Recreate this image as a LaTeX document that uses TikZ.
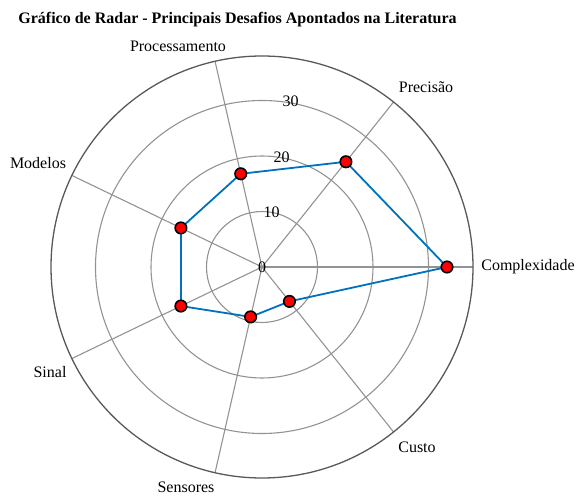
\documentclass[tikz,border=0pt]{standalone}
\usepackage{fontspec}
\setmainfont{Liberation Serif}
\usetikzlibrary{calc}
\begin{document}
\begin{tikzpicture}[x=1pt,y=1pt,
  lbl/.style={inner sep=0pt,font=\fontsize{16}{19}\selectfont},
  ring/.style={draw=gray!85,line width=1.1pt},
  spoke/.style={draw=gray!85,line width=1.1pt},
  outer/.style={draw=black!65,line width=1.3pt},
  series/.style={draw={rgb,255:red,0;green,114;blue,189},line width=1.8pt,line join=round},
  mk/.style={circle,draw=black,fill=red,line width=1.6pt,minimum size=11.5pt,inner sep=0pt}]
\useasboundingbox (0,0) rectangle (576,496);
\coordinate (C) at (262,229);
% rings
\foreach \r in {55.5,111,166.5} \draw[ring] (C) circle (\r);
% spokes
\foreach \a in {0,51.4286,102.8571,154.2857,205.7143,257.1429,308.5714}
  \draw[spoke] (C) -- ++(\a:211);
\draw[outer] (C) circle (211);
% tick labels
\node[lbl] (t0) at (262,229) {0};
\node[lbl] (t10) at (271.7,284) {10};
\node[lbl] (t20) at (281.7,339) {20};
\node[lbl] (t30) at (290.7,394.3) {30};
% data points
\coordinate (p1) at ($(C)+(0:185)$);
\coordinate (p2) at ($(C)+(51.4286:134.6)$);
\coordinate (p3) at ($(C)+(102.8571:95.6)$);
\coordinate (p4) at ($(C)+(154.2857:90)$);
\coordinate (p5) at ($(C)+(205.7143:90)$);
\coordinate (p6) at ($(C)+(257.1429:51.2)$);
\coordinate (p7) at ($(C)+(308.5714:44)$);
\draw[series] (p1) -- (p2) -- (p3) -- (p4) -- (p5) -- (p6) -- (p7) -- cycle;
\foreach \i in {1,...,7} \node[mk] (m\i) at (p\i) {};
% axis labels
\node[lbl] (l1) at (528,229) {Complexidade};
\node[lbl] (l2) at (426,409) {Precisão};
\node[lbl] (l3) at (178,450) {Processamento};
\node[lbl] (l4) at (38,333) {Modelos};
\node[lbl] (l5) at (50,124) {Sinal};
\node[lbl] (l6) at (186,8.5) {Sensores};
\node[lbl] (l7) at (417,49) {Custo};
% title
\node[inner sep=0pt,font=\fontsize{16}{19}\selectfont\bfseries] (title) at (237.5,476) {Gráfico de Radar - Principais Desafios Apontados na Literatura};
\end{tikzpicture}
\end{document}
